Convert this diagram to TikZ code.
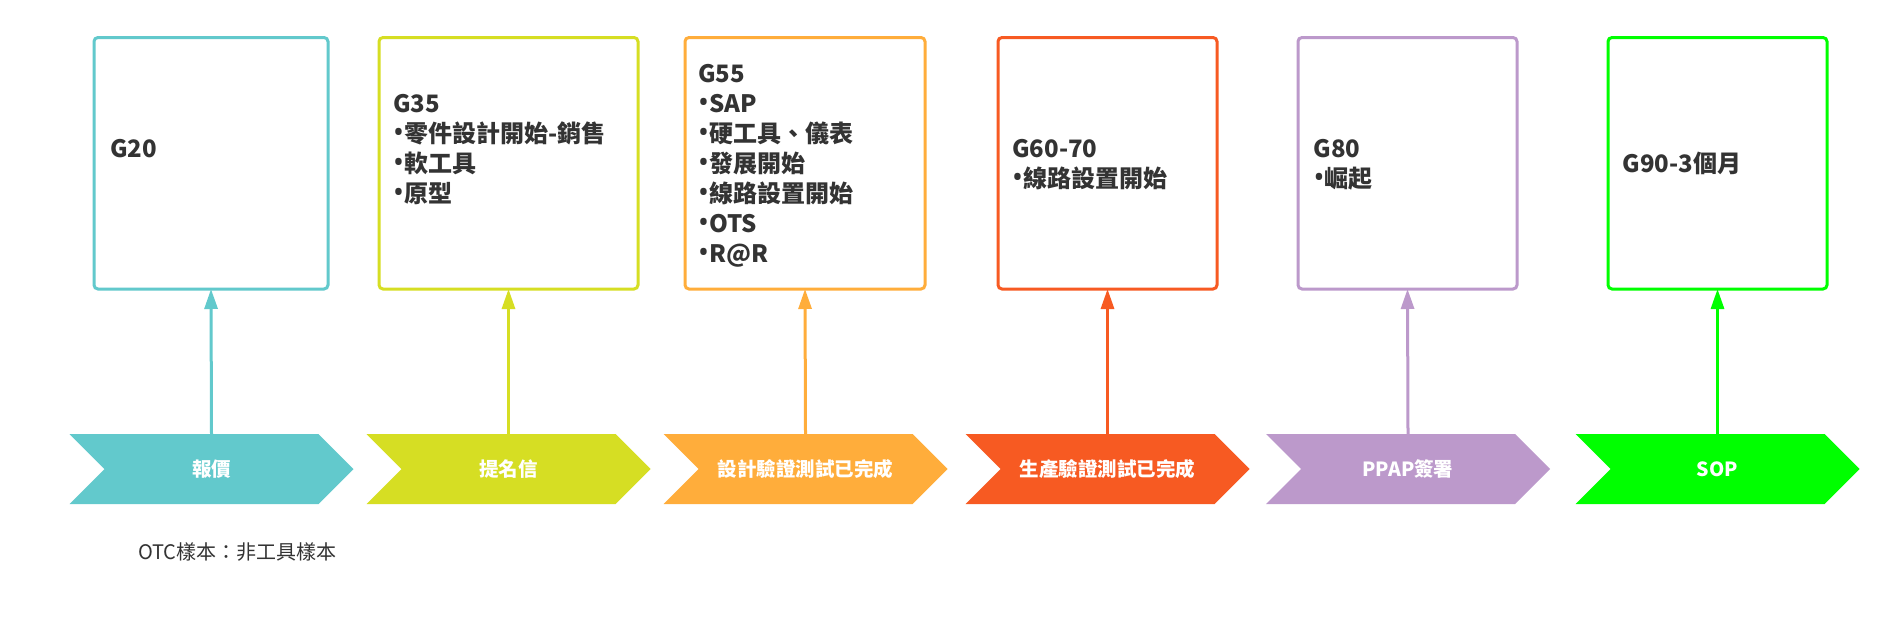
\documentclass[tikz,border=0pt]{standalone}
\usepackage{fontspec}
\newfontfamily\cjk{Noto Sans CJK TC}
\newfontfamily\latinb{Noto Sans}
\newcommand\bul{{\latinb\bfseries\fontsize{29}{30}\selectfont •}}
\usetikzlibrary{arrows.meta}
\definecolor{cA}{HTML}{62C9CC}
\definecolor{cB}{HTML}{D6DE23}
\definecolor{cC}{HTML}{FFAD3B}
\definecolor{cD}{HTML}{F75A22}
\definecolor{cE}{HTML}{BC99CB}
\definecolor{cF}{HTML}{00FF00}
\definecolor{txt}{HTML}{333333}
\tikzset{
  gbox/.style={draw, line width=3pt, rounded corners=4pt, fill=white, minimum height=251.5pt, inner sep=0pt},
  gtext/.style={anchor=base west, inner sep=0pt, align=left, text=txt, font=\cjk\bfseries\fontsize{24}{30}\selectfont},
  clabel/.style={text=white, font=\cjk\bfseries\fontsize{19.5}{22}\selectfont, inner sep=0pt, minimum height=70pt, minimum width=10pt},
  link/.style={line width=3pt, -{Triangle[length=20pt,width=13pt]}, shorten >=-1.5pt},
}
\begin{document}
\begin{tikzpicture}[x=1pt,y=-1pt]
\fill[white] (0,0) rectangle (1897,621);
\useasboundingbox (0,0) rectangle (1897,621);

% boxes
\node[gbox, draw=cA, minimum width=234pt] (b1) at (211,163.25) {};
\node[gbox, draw=cB, minimum width=259pt] (b2) at (508.5,163.25) {};
\node[gbox, draw=cC, minimum width=240pt] (b3) at (805,163.25) {};
\node[gbox, draw=cD, minimum width=219pt] (b4) at (1107.5,163.25) {};
\node[gbox, draw=cE, minimum width=219pt] (b5) at (1407.5,163.25) {};
\node[gbox, draw=cF, minimum width=219pt] (b6) at (1717.5,163.25) {};

% box texts (anchored at the baseline of the last line)
\node[gtext] (t1) at (110,157) {G20};
\node[gtext] (t2) at (393,202.3) {G35\\\bul{}零件設計開始-銷售\\\bul{}軟工具\\\bul{}原型};
\node[gtext] (t3) at (698,262) {G55\\\bul{}SAP\\\bul{}硬工具、儀表\\\bul{}發展開始\\\bul{}線路設置開始\\\bul{}OTS\\\bul{}R@R};
\node[gtext] (t4) at (1012,187) {G60-70\\\bul{}線路設置開始};
\node[gtext] (t5) at (1313.5,187) {G80\\\bul{}崛起};
\node[gtext] (t6) at (1622.5,172) {G90-3個月};

% chevrons
\foreach \n/\x/\c/\t in {1/211.5/cA/報價, 2/508.5/cB/提名信, 3/805.5/cC/設計驗證測試已完成, 4/1107.5/cD/生產驗證測試已完成, 5/1408/cE/PPAP簽署, 6/1717.5/cF/SOP}{
  \fill[\c] (\x-142,434) -- (\x+107,434) -- (\x+142,469) -- (\x+107,504) -- (\x-142,504) -- (\x-107,469) -- cycle;
  \node[clabel] (ch\n) at (\x,469) {\t};
  \draw[link, \c] (ch\n.north) -- (b\n.south);
}

% note
\node[anchor=base west, inner sep=0pt, text=txt, font=\cjk\fontsize{20}{24}\selectfont] (note) at (138,559) {OTC樣本：非工具樣本};
\end{tikzpicture}
\end{document}
